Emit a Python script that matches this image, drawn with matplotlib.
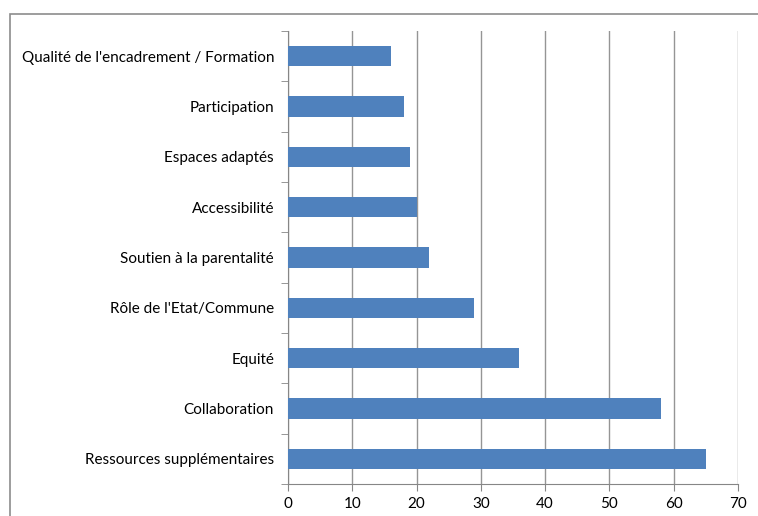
import numpy as np
import matplotlib.pyplot as plt
from matplotlib.patches import Rectangle

categories = [
    "Ressources supplémentaires",
    "Collaboration",
    "Equité",
    "Rôle de l'Etat/Commune",
    "Soutien à la parentalité",
    "Accessibilité",
    "Espaces adaptés",
    "Participation",
    "Qualité de l'encadrement / Formation",
]
values = [65, 58, 36, 29, 22, 20, 19, 18, 16]
x_ticks = [0, 10, 20, 30, 40, 50, 60, 70]

plt.rcParams['font.family'] = ['Lato', 'DejaVu Sans']

fig = plt.figure(figsize=(7.58, 5.16), dpi=100)
ax = fig.add_axes([288 / 758, 32 / 516, 450 / 758, 453 / 516])

# outer chart frame (cropped at right/bottom)
fig.patches.append(Rectangle((10 / 758, -0.1), 1.2, (516 - 14) / 516 + 0.1,
                             transform=fig.transFigure, fill=False,
                             edgecolor='#8c8c8c', linewidth=1.2))

y = np.arange(len(categories))
ax.barh(y, values, height=0.4, color='#4F81BD', zorder=3)

ax.set_xlim(0, 70)
ax.set_ylim(-0.5, len(categories) - 0.5)
ax.set_xticks(x_ticks)
ax.set_yticks(y)
ax.set_yticklabels(categories, fontsize=11)
ax.set_yticks(np.arange(-0.5, len(categories), 1), minor=True)
ax.tick_params(axis='y', which='major', length=0, pad=10)
ax.tick_params(axis='y', which='minor', length=5, color='#868686', direction='out')
ax.tick_params(axis='x', length=5, color='#868686', labelsize=11, pad=4)

ax.xaxis.grid(True, color='#959595', linewidth=1)
ax.set_axisbelow(True)
for s in ['top', 'right']:
    ax.spines[s].set_visible(False)
for s in ['left', 'bottom']:
    ax.spines[s].set_color('#868686')

fig.savefig('out.png', dpi=100)
